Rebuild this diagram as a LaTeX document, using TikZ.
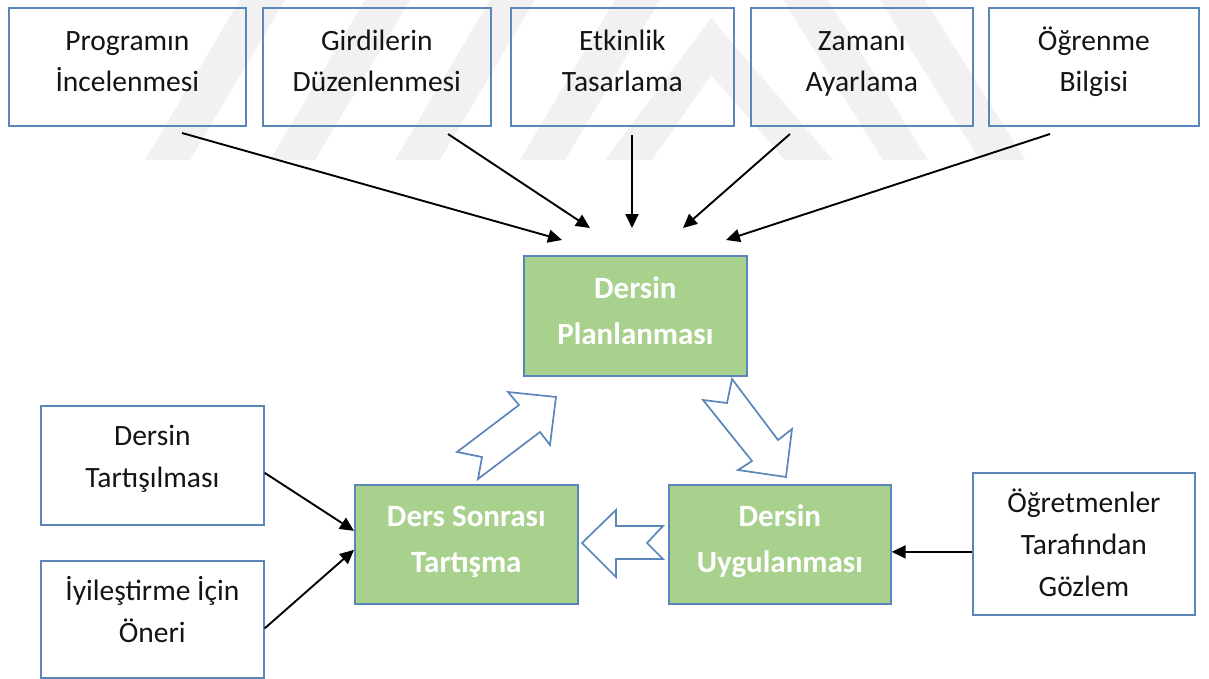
\documentclass[tikz,border=0pt]{standalone}
\usepackage{fontspec}
\setmainfont{Carlito}
\usetikzlibrary{arrows.meta}
\definecolor{bordc}{HTML}{5A86BA}
\definecolor{greenf}{HTML}{A9D18E}
\definecolor{txtc}{HTML}{141414}
\definecolor{wmark}{HTML}{F1F1F1}
\begin{document}
\begin{tikzpicture}[x=1pt,y=-1pt,
  wbox/.style={draw=bordc, line width=1.7pt, inner sep=0pt, anchor=north west},
  gbox/.style={draw=bordc, line width=1.7pt, fill=greenf, inner sep=0pt, anchor=north west},
  wtext/.style={anchor=north, align=center, inner sep=0pt, text=txtc, font=\fontsize{29.5}{41}\selectfont},
  ltext/.style={anchor=north, align=center, inner sep=0pt, text=txtc, font=\fontsize{29.5}{42}\selectfont},
  gtext/.style={anchor=north, align=center, inner sep=0pt, text=white, font=\fontsize{31}{46}\selectfont\bfseries},
  conn/.style={line width=1.9pt, -{Triangle[length=14pt,width=13pt]}},
  blockarrow/.style={draw=bordc, line width=1.7pt, fill=white, line join=miter},
  stripe/.style={fill=wmark, draw=none},
]
\useasboundingbox (0,0) rectangle (1209,679);
\fill[white] (0,0) rectangle (1209,679);
% watermark
\fill[stripe] (145,160) -- (190,160) -- (285,0) -- (240,0) -- cycle;
\fill[stripe] (270,160) -- (315,160) -- (410,0) -- (365,0) -- cycle;
\fill[stripe] (395,160) -- (440,160) -- (535,0) -- (490,0) -- cycle;
\fill[stripe] (520,160) -- (565,160) -- (660,0) -- (615,0) -- cycle;
\fill[stripe] (605,160) -- (711,18) -- (833,160) -- (785,160) -- (711,75) -- (652,160) -- cycle;
\fill[stripe] (783,0) -- (828,0) -- (928,160) -- (883,160) -- cycle;
\fill[stripe] (880,0) -- (925,0) -- (1025,160) -- (980,160) -- cycle;
% top boxes
\node[wbox, minimum width=237pt, minimum height=118pt] (b1) at (8,7) {};
\node[wbox, minimum width=228pt, minimum height=118pt] (b2) at (262,7) {};
\node[wbox, minimum width=223pt, minimum height=118pt] (b3) at (510,7) {};
\node[wbox, minimum width=222pt, minimum height=118pt] (b4) at (750,7) {};
\node[wbox, minimum width=210pt, minimum height=118pt] (b5) at (988,7) {};
\node[wtext] (t1) at ([yshift=-13pt]b1.north) {\rule{0pt}{30pt}Programın\\İncelenmesi};
\node[wtext] (t2) at ([yshift=-13pt]b2.north) {\rule{0pt}{30pt}Girdilerin\\Düzenlenmesi};
\node[wtext] (t3) at ([yshift=-13pt]b3.north) {\rule{0pt}{30pt}Etkinlik\\Tasarlama};
\node[wtext] (t4) at ([yshift=-13pt]b4.north) {\rule{0pt}{30pt}Zamanı\\Ayarlama};
\node[wtext] (t5) at ([yshift=-13pt]b5.north) {\rule{0pt}{30pt}Öğrenme\\Bilgisi};
% green boxes
\node[gbox, minimum width=223pt, minimum height=120pt] (plan) at (523,255) {};
\node[gbox, minimum width=223pt, minimum height=119pt] (ds) at (354,484) {};
\node[gbox, minimum width=222pt, minimum height=119pt] (du) at (668,484) {};
\node[gtext] (tp) at ([yshift=-13pt]plan.north) {\rule{0pt}{30pt}Dersin\\Planlanması};
\node[gtext] (tds) at ([yshift=-12pt]ds.north) {\rule{0pt}{30pt}Ders Sonrası\\Tartışma};
\node[gtext] (tdu) at ([yshift=-12pt]du.north) {\rule{0pt}{30pt}Dersin\\Uygulanması};
% side boxes
\node[wbox, minimum width=223pt, minimum height=119pt] (l1) at (40,405) {};
\node[wbox, minimum width=223pt, minimum height=117pt] (l2) at (40,560) {};
\node[wbox, minimum width=222pt, minimum height=142pt] (ob) at (972,472) {};
\node[ltext] (tl1) at ([yshift=-10pt]l1.north) {\rule{0pt}{30pt}Dersin\\Tartışılması};
\node[ltext] (tl2) at ([yshift=-10pt]l2.north) {\rule{0pt}{30pt}İyileştirme İçin\\Öneri};
\node[ltext] (tob) at ([yshift=-10pt]ob.north) {\rule{0pt}{30pt}Öğretmenler\\Tarafından\\Gözlem};
% connector end points
\coordinate (s1) at (182,133); \coordinate (e1) at (562,240);
\coordinate (s2) at (448,134); \coordinate (e2) at (590,228);
\coordinate (s3) at (632,135); \coordinate (e3) at (632,228);
\coordinate (s4) at (790,134); \coordinate (e4) at (683,228);
\coordinate (s5) at (1050,134); \coordinate (e5) at (726,240);
\draw[conn] (s1) -- (e1);
\draw[conn] (s2) -- (e2);
\draw[conn] (s3) -- (e3);
\draw[conn] (s4) -- (e4);
\draw[conn] (s5) -- (e5);
\draw[conn] ([yshift=-7.5pt]l1.east) -- ([yshift=13.5pt]ds.west);
\draw[conn] ([yshift=-9pt]l2.east) -- ([yshift=-5.5pt]ds.west);
\draw[conn] ([yshift=-8pt]ob.west) -- ([yshift=-7.5pt]du.west -| du.east);
% block arrows
\draw[blockarrow] (457,452) -- (519,405) -- (508,392) -- (556,397) -- (550,445) -- (540,432) -- (478,479) -- (482,457) -- cycle;
\draw[blockarrow] (732,379) -- (778,440) -- (792,429) -- (786,477) -- (738,470) -- (752,461) -- (703,400) -- (727,403) -- cycle;
\draw[blockarrow] (582,543) -- (616,510) -- (616,526) -- (663,526) -- (647,543) -- (663,559) -- (616,559) -- (616,577) -- cycle;
\end{tikzpicture}
\end{document}
